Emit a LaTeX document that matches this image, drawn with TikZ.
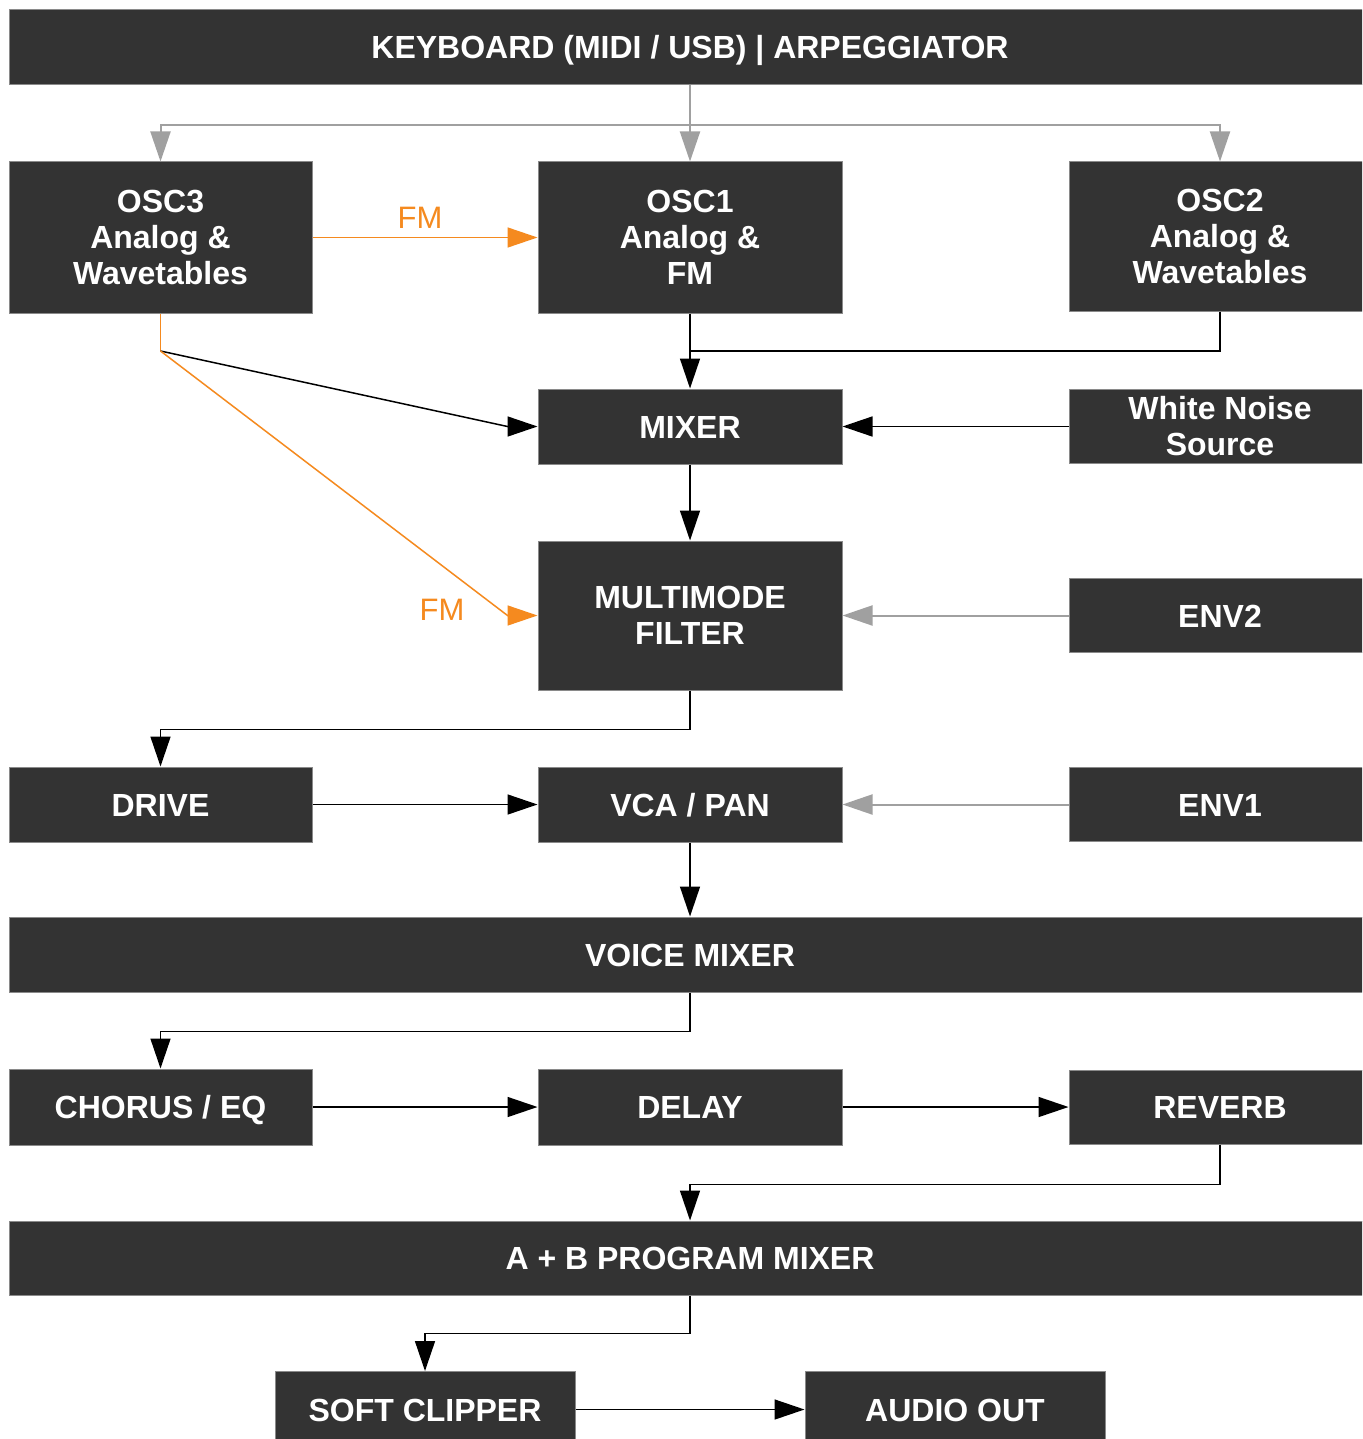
\documentclass[tikz,border=0pt]{standalone}
\usepackage{fontspec}
\setmainfont{Liberation Sans}
\usetikzlibrary{arrows.meta}
\definecolor{boxfill}{HTML}{333333}
\definecolor{boxedge}{HTML}{8A8A8A}
\definecolor{fmorange}{HTML}{F58A1F}
\definecolor{ctlgrey}{HTML}{A0A0A0}
\begin{document}
\begin{tikzpicture}[x=1pt,y=-1pt,
  blk/.style={fill=boxfill,draw=boxedge,line width=1pt,inner sep=0pt,
    text=white,align=center,font=\fontsize{32}{36}\selectfont\bfseries},
  one/.style={text height=24pt,text depth=1pt},
  wline/.style={line width=1.5pt,draw=black},
  arr/.style={wline,-{Triangle[length=30pt,width=20pt]}},
  gline/.style={line width=2pt,draw=ctlgrey},
  garr/.style={gline,-{Triangle[length=30pt,width=20pt,fill=ctlgrey]}},
  oline/.style={line width=1.5pt,draw=fmorange},
  oarr/.style={oline,-{Triangle[length=30pt,width=20pt,fill=fmorange]}},
  fmlbl/.style={text=fmorange,font=\fontsize{31}{36}\selectfont,inner sep=0pt}
]
\useasboundingbox (0,0) rectangle (1362,1439);
\clip (0,0) rectangle (1362,1439);
\fill[white] (0,0) rectangle (1362,1439);

% nodes
\node[blk,one,minimum width=1362pt,minimum height=75pt] (kbd) at (690,47.5) {KEYBOARD (MIDI / USB) | ARPEGGIATOR};
\node[blk,minimum width=303pt,minimum height=151pt] (osc3) at (160.5,237.5) {OSC3\\Analog \&\\Wavetables};
\node[blk,minimum width=304pt,minimum height=151pt] (osc1) at (690,237.5) {OSC1\\Analog \&\\FM};
\node[blk,minimum width=302pt,minimum height=149pt] (osc2) at (1220,236.5) {OSC2\\Analog \&\\Wavetables};
\node[blk,one,minimum width=304pt,minimum height=75pt] (mixer) at (690,426.5) {MIXER};
\node[blk,minimum width=302pt,minimum height=74pt] (noise) at (1220,426.5) {White Noise\\Source};
\node[blk,minimum width=304pt,minimum height=149pt] (filter) at (690,615.5) {MULTIMODE\\FILTER};
\node[blk,one,minimum width=302pt,minimum height=74pt] (env2) at (1220,615.5) {ENV2};
\node[blk,one,minimum width=303pt,minimum height=75pt] (drive) at (160.5,804.5) {DRIVE};
\node[blk,one,minimum width=304pt,minimum height=75pt] (vca) at (690,804.5) {VCA / PAN};
\node[blk,one,minimum width=302pt,minimum height=74pt] (env1) at (1220,804.5) {ENV1};
\node[blk,one,minimum width=1362pt,minimum height=75pt] (voice) at (690,954.5) {VOICE MIXER};
\node[blk,one,minimum width=303pt,minimum height=76pt] (chorus) at (160.5,1107) {CHORUS / EQ};
\node[blk,one,minimum width=304pt,minimum height=76pt] (delay) at (690,1107) {DELAY};
\node[blk,one,minimum width=302pt,minimum height=74pt] (reverb) at (1220,1107) {REVERB};
\node[blk,one,minimum width=1362pt,minimum height=74pt] (ab) at (690,1258) {A + B PROGRAM MIXER};
\node[blk,one,minimum width=300pt,minimum height=76pt] (soft) at (425,1409.5) {SOFT CLIPPER};
\node[blk,one,minimum width=300pt,minimum height=76pt] (audio) at (955,1409.5) {AUDIO OUT};

\node[fmlbl] (fm1) at (420,218) {FM};
\node[fmlbl] (fm2) at (442,610) {FM};

% keyboard distribution
\coordinate (kj) at (690,125);
\draw[gline] (kbd.south) -- (kj);
\draw[garr] (kj) -| (osc3.north);
\draw[garr] (kj) -- (osc1.north);
\draw[garr] (kj) -| (osc2.north);

% FM OSC3 -> OSC1
\draw[oarr] (osc3.east) -- (osc1.west);

% oscillators -> mixer
\coordinate (m1) at (690,351);
\draw[arr] (osc1.south) -- (mixer.north);
\draw[wline] (osc2.south) |- (m1);
\coordinate (fmj) at (160.5,351);
\draw[oline] (osc3.south) -- (fmj);
\draw[arr] (fmj) -- ([xshift=-30pt]mixer.west) -- (mixer.west);
\draw[oarr] (fmj) -- ([xshift=-30pt]filter.west) -- (filter.west);

\draw[arr] (noise.west) -- (mixer.east);
\draw[arr] (mixer.south) -- (filter.north);
\draw[garr] (env2.west) -- (filter.east);

\draw[arr] (filter.south) -- ++(0,39) -| (drive.north);
\draw[arr] (drive.east) -- (vca.west);
\draw[garr] (env1.west) -- (vca.east);
\draw[arr] (vca.south) -- (voice.north);

\draw[arr] (voice.south) -- ++(0,39) -| (chorus.north);
\draw[arr] (chorus.east) -- (delay.west);
\draw[arr] (delay.east) -- (reverb.west);
\draw[arr] (reverb.south) -- ++(0,40) -| (ab.north);
\draw[arr] (ab.south) -- ++(0,38) -| (soft.north);
\draw[arr] (soft.east) -- (audio.west);
\end{tikzpicture}
\end{document}
